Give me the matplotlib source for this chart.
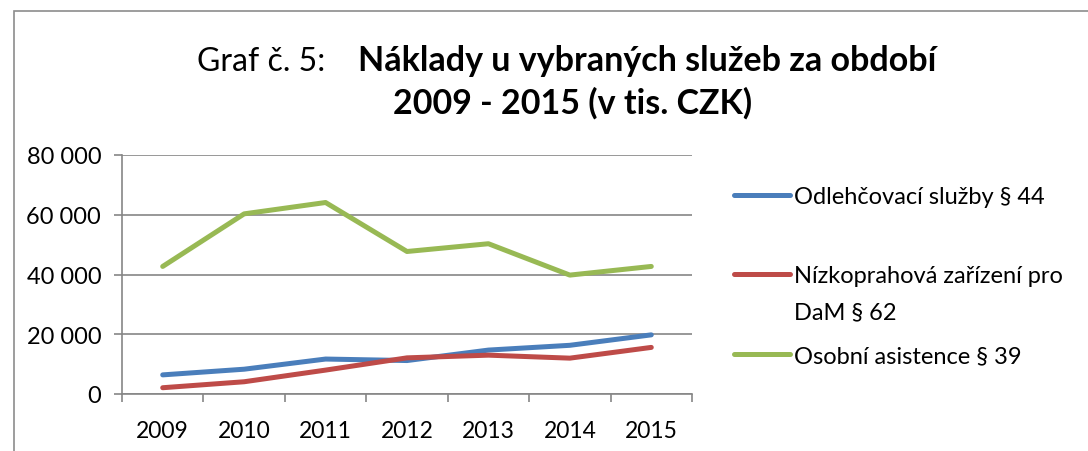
import matplotlib.pyplot as plt
from matplotlib.patches import Rectangle

plt.rcParams['font.family'] = ['Lato', 'DejaVu Sans']

years = ['2009', '2010', '2011', '2012', '2013', '2014', '2015']
odlehcovaci = [6400, 8300, 11700, 11200, 14700, 16300, 19800]
nizkoprahova = [2100, 4100, 8000, 12100, 13000, 12000, 15600]
asistence = [42700, 60300, 64100, 47700, 50300, 39800, 42700]

labels = ['Odlehčovací služby § 44', 'Nízkoprahová zařízení pro', 'Osobní asistence § 39']
label_cont = 'DaM § 62'
colors = ['#4A7EBB', '#BE4B48', '#98B954']
grid_c = '#868686'

fig = plt.figure(figsize=(10.88, 4.52), dpi=100)
fig.patches.append(Rectangle((14 / 1088, -0.1), 1.2, 1 - 12 / 452 + 0.1, transform=fig.transFigure,
                             fill=False, edgecolor='#8c8c8c', linewidth=1.2))

ax = fig.add_axes([122 / 1088, 1 - 395 / 452, 570 / 1088, 239 / 452])
x = range(len(years))
for vals, lab, c in zip([odlehcovaci, nizkoprahova, asistence], labels, colors):
    ax.plot(x, vals, color=c, linewidth=3.6, label=lab, solid_capstyle='round')

ax.set_xlim(-0.5, 6.5)
ax.set_ylim(0, 80000)
ax.set_yticks(range(0, 80001, 20000))
ax.set_yticklabels([f'{v:,}'.replace(',', ' ') for v in range(0, 80001, 20000)], fontsize=17)
ax.set_xticks(list(x))
ax.set_xticklabels(years, fontsize=16.5)
ax.set_xticks([i - 0.5 for i in range(8)], minor=True)
ax.tick_params(axis='x', which='major', length=0, pad=19)
ax.tick_params(axis='x', which='minor', length=6, color=grid_c, width=1.2, direction='out')
ax.tick_params(axis='y', length=6, color=grid_c, width=1.2, pad=9)
ax.grid(axis='y', color=grid_c, linewidth=1.2)
ax.set_axisbelow(True)
for s in ['top', 'right']:
    ax.spines[s].set_visible(False)
for s in ['left', 'bottom']:
    ax.spines[s].set_color(grid_c)
    ax.spines[s].set_linewidth(1.2)

leg = ax.legend(loc='upper left', bbox_to_anchor=(1.053, 0.92), frameon=False, fontsize=17,
                handlelength=2.35, handletextpad=0.2, labelspacing=2.48, borderpad=0)

# second line of the red legend label, placed under the first line
fig.canvas.draw()
red_txt = leg.get_texts()[1]
bb = red_txt.get_window_extent()
fig.text(bb.x0 / fig.bbox.width, bb.y0 / fig.bbox.height - 36 / 452, label_cont,
         fontsize=17, ha='left', va='bottom')

fig.text(325 / 1088, 1 - 71 / 452, 'Graf č. 5:', ha='right', va='baseline', fontsize=23)
fig.text(358 / 1088, 1 - 71 / 452, 'Náklady u vybraných služeb za období', ha='left', va='baseline',
         fontsize=24.5, fontweight='bold')
fig.text(573 / 1088, 1 - 114 / 452, '2009 - 2015 (v tis. CZK)', ha='center', va='baseline',
         fontsize=24.5, fontweight='bold')

fig.savefig('out.png', dpi=100)
